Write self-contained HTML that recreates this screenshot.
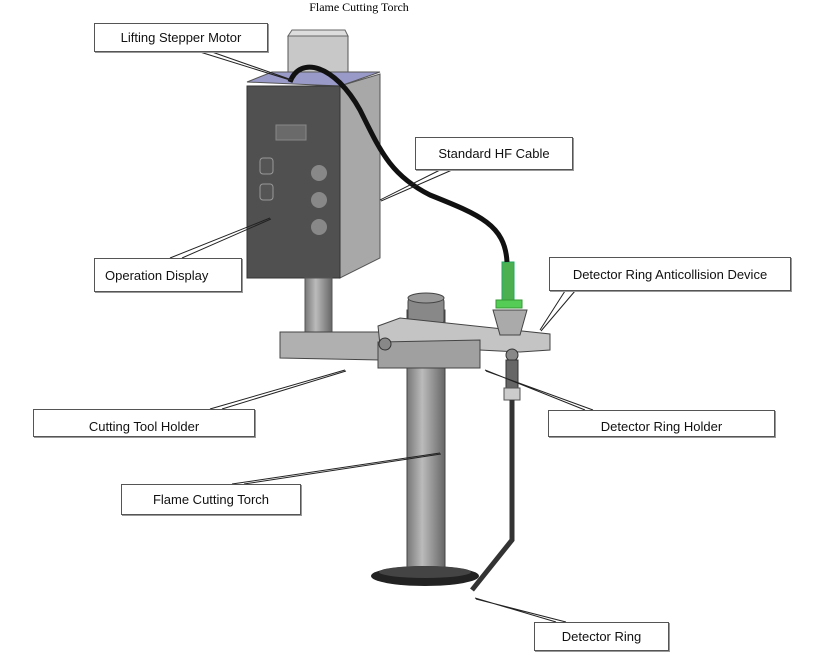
<!DOCTYPE html>
<html><head><meta charset="utf-8"><style>
body{margin:0;background:#fff;width:815px;height:665px;overflow:hidden;font-family:"Liberation Sans",sans-serif}
.b{position:absolute;background:#fff;border:1px solid #555;box-shadow:1px 1px 0 #999;font-size:13px;color:#111;display:flex;align-items:center;justify-content:center;box-sizing:border-box}
</style></head><body>
<svg width="815" height="665" style="position:absolute;left:0;top:0">
<defs>
<linearGradient id="g1" x1="0" x2="1"><stop offset="0" stop-color="#777"/><stop offset=".4" stop-color="#bbb"/><stop offset="1" stop-color="#666"/></linearGradient>
</defs>
<text x="359" y="11" text-anchor="middle" font-family="Liberation Serif,serif" font-size="12">Flame Cutting Torch</text>
<!-- motor -->
<rect x="288" y="36" width="60" height="42" fill="#c8c8c8" stroke="#555"/>
<polygon points="288,36 348,36 345,30 292,30" fill="#ddd" stroke="#666"/>
<!-- box top -->
<polygon points="247,82 272,72 380,72 340,86" fill="#9a9ac8" stroke="#555"/>
<!-- side -->
<polygon points="340,86 380,74 380,258 340,278" fill="#a8a8a8" stroke="#555"/>
<!-- front -->
<rect x="247" y="86" width="93" height="192" fill="#505050" stroke="#333"/>
<rect x="276" y="125" width="30" height="15" fill="#6a6a6a" stroke="#888"/>
<rect x="260" y="158" width="13" height="16" rx="3" fill="#555" stroke="#999"/>
<rect x="260" y="184" width="13" height="16" rx="3" fill="#555" stroke="#999"/>
<circle cx="319" cy="173" r="8" fill="#888"/><circle cx="319" cy="200" r="8" fill="#888"/><circle cx="319" cy="227" r="8" fill="#888"/>
<!-- column -->
<rect x="305" y="278" width="27" height="58" fill="url(#g1)" stroke="#555"/>
<!-- torch -->
<rect x="407" y="310" width="38" height="262" fill="url(#g1)" stroke="#444"/>
<rect x="408" y="296" width="36" height="30" rx="6" fill="#888" stroke="#444"/>
<ellipse cx="426" cy="298" rx="18" ry="5" fill="#999" stroke="#444"/>
<ellipse cx="425" cy="576" rx="54" ry="10" fill="#222"/>
<ellipse cx="425" cy="572" rx="46" ry="6" fill="#444"/>
<!-- arms -->
<polygon points="280,332 380,332 380,360 280,358" fill="#b0b0b0" stroke="#444"/>
<polygon points="378,326 400,318 550,334 550,350 520,352 380,345" fill="#c4c4c4" stroke="#444"/>
<polygon points="378,342 480,340 480,368 378,368" fill="#a0a0a0" stroke="#444"/>
<circle cx="385" cy="344" r="6" fill="#888" stroke="#333"/>
<circle cx="512" cy="355" r="6" fill="#888" stroke="#333"/>
<!-- detector -->
<polygon points="493,310 527,310 520,335 500,335" fill="#aaa" stroke="#444"/>
<rect x="502" y="262" width="12" height="44" fill="#4caf50" stroke="#2a6"/>
<rect x="496" y="300" width="26" height="8" fill="#5c5" stroke="#393"/>
<rect x="506" y="360" width="12" height="30" fill="#666" stroke="#333"/>
<rect x="504" y="388" width="16" height="12" fill="#ccc" stroke="#555"/>
<path d="M512,400 L512,540 L472,590" fill="none" stroke="#333" stroke-width="5"/>
<!-- cable -->
<path d="M290,82 C300,55 335,65 360,110 C380,150 390,175 430,195 C480,215 505,225 507,262" fill="none" stroke="#111" stroke-width="5"/>
<!-- leader lines -->
<g stroke="#222" stroke-width="1" fill="none">
<path d="M200,52 L290,80 M212,52 L292,80"/>
<path d="M440,170 L380,200 M452,170 L381,201"/>
<path d="M170,258 L270,218 M182,258 L271,219"/>
<path d="M565,291 L540,330 M575,291 L541,331"/>
<path d="M210,409 L345,370 M222,409 L346,371"/>
<path d="M585,410 L485,370 M593,410 L486,371"/>
<path d="M232,484 L440,453 M244,484 L441,454"/>
<path d="M556,622 L475,598 M566,622 L476,599"/>
</g>
</svg>
<div class="b" style="left:94px;top:23px;width:174px;height:29px">Lifting Stepper Motor</div>
<div class="b" style="left:415px;top:137px;width:158px;height:33px">Standard HF Cable</div>
<div class="b" style="left:94px;top:258px;width:148px;height:34px;justify-content:flex-start;padding-left:10px">Operation Display</div>
<div class="b" style="left:549px;top:257px;width:242px;height:34px">Detector Ring Anticollision Device</div>
<div class="b" style="left:33px;top:409px;width:222px;height:28px;align-items:flex-end;padding-bottom:2px">Cutting Tool Holder</div>
<div class="b" style="left:548px;top:410px;width:227px;height:27px;align-items:flex-end;padding-bottom:2px">Detector Ring Holder</div>
<div class="b" style="left:121px;top:484px;width:180px;height:31px">Flame Cutting Torch</div>
<div class="b" style="left:534px;top:622px;width:135px;height:29px">Detector Ring</div>
</body></html>
